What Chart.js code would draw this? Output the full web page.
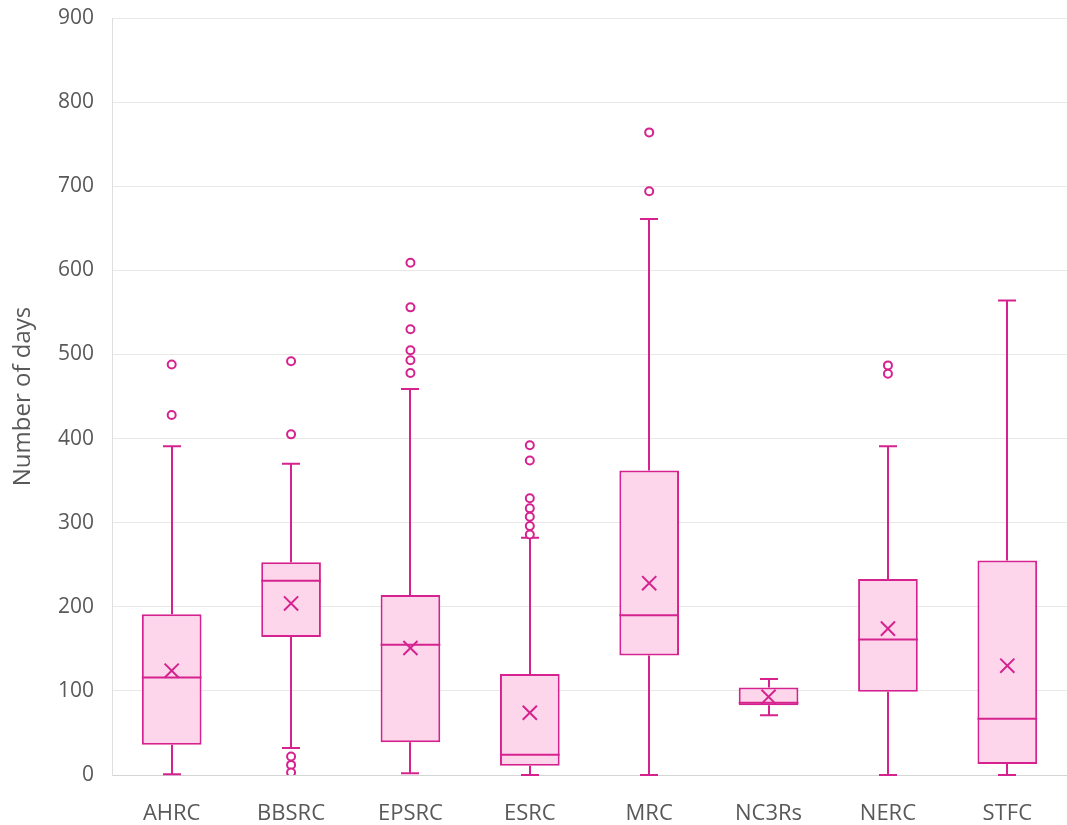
<!DOCTYPE html>
<html>
<head>
<meta charset="utf-8">
<title>Number of days by council</title>
<script src="https://cdn.jsdelivr.net/npm/chart.js@4/dist/chart.umd.min.js"></script>
<style>
  html, body { margin: 0; padding: 0; background: #fff; overflow: hidden; }
  #wrap { width: 1067px; height: 825px; position: relative; }
  canvas { display: block; }
</style>
</head>
<body>
<div id="wrap"><canvas id="daysChart"></canvas></div>
<script>
const councils = ['AHRC', 'BBSRC', 'EPSRC', 'ESRC', 'MRC', 'NC3Rs', 'NERC', 'STFC'];

// box statistics, one value per council
const whiskerLow  = [1, 32, 2, 0, 0, 71, 0, 0];
const q1          = [36, 164, 39, 11, 142, 83, 99, 13];
const medians     = [116, 231, 155, 24, 190, 86, 161, 67];
const q3          = [191, 253, 214, 120, 362, 104, 233, 255];
const whiskerHigh = [391, 370, 459, 282, 661, 114, 391, 564];
const means       = [124, 204, 151, 74, 228, 93, 174, 130];

const outliers = [
  [488, 428],
  [492, 405, 22, 12, 3],
  [609, 556, 530, 505, 493, 478],
  [392, 374, 329, 317, 307, 296, 286],
  [764, 694],
  [],
  [487, 477],
  []
];

const yTicks = [0, 100, 200, 300, 400, 500, 600, 700, 800, 900];

const STROKE = '#d5228f';
const FILL = '#fdd6eb';
const TEXT = '#595959';

const outlierPoints = [];
outliers.forEach((list, i) => list.forEach(v => outlierPoints.push({ x: councils[i], y: v })));

// whiskers under the boxes, median lines over them
const boxLines = {
  id: 'boxLines',
  beforeDatasetsDraw(chart) {
    const ctx = chart.ctx;
    const y = chart.scales.y;
    const bars = chart.getDatasetMeta(0).data;
    ctx.save();
    ctx.strokeStyle = STROKE;
    ctx.lineWidth = 2;
    bars.forEach((bar, i) => {
      const cx = Math.round(bar.x);
      const capHalf = 9;
      const yHi = y.getPixelForValue(whiskerHigh[i]);
      const yLo = y.getPixelForValue(whiskerLow[i]);
      ctx.beginPath();
      ctx.moveTo(cx, y.getPixelForValue(q3[i]));
      ctx.lineTo(cx, yHi);
      ctx.moveTo(cx - capHalf, yHi);
      ctx.lineTo(cx + capHalf, yHi);
      ctx.moveTo(cx, y.getPixelForValue(q1[i]));
      ctx.lineTo(cx, yLo);
      ctx.moveTo(cx - capHalf, yLo);
      ctx.lineTo(cx + capHalf, yLo);
      ctx.stroke();
    });
    ctx.restore();
  },
  afterDatasetsDraw(chart) {
    const ctx = chart.ctx;
    const y = chart.scales.y;
    const bars = chart.getDatasetMeta(0).data;
    ctx.save();
    ctx.strokeStyle = STROKE;
    ctx.lineWidth = 2;
    bars.forEach((bar, i) => {
      const ym = y.getPixelForValue(medians[i]);
      ctx.beginPath();
      ctx.moveTo(bar.x - bar.width / 2, ym);
      ctx.lineTo(bar.x + bar.width / 2, ym);
      ctx.stroke();
    });
    ctx.restore();
  }
};

new Chart(document.getElementById('daysChart'), {
  data: {
    labels: councils,
    datasets: [
      {
        type: 'bar',
        data: q1.map((v, i) => [v, q3[i]]),
        backgroundColor: FILL,
        borderColor: STROKE,
        borderWidth: 2,
        borderSkipped: false,
        barPercentage: 0.5,
        categoryPercentage: 1,
        order: 3
      },
      {
        type: 'line',
        data: outlierPoints,
        showLine: false,
        pointStyle: 'circle',
        pointRadius: 4,
        pointBorderWidth: 2,
        pointBackgroundColor: '#fff',
        pointBorderColor: STROKE,
        order: 2
      },
      {
        type: 'line',
        data: means,
        showLine: false,
        pointStyle: 'crossRot',
        pointRadius: 10,
        pointBorderWidth: 2,
        pointBorderColor: STROKE,
        order: 1
      }
    ]
  },
  options: {
    responsive: true,
    maintainAspectRatio: false,
    animation: false,
    layout: { autoPadding: false, padding: { top: 18, right: 0, left: 0, bottom: 0 } },
    plugins: {
      legend: { display: false },
      tooltip: { enabled: false }
    },
    scales: {
      x: {
        type: 'category',
        offset: true,
        grid: { display: false },
        border: { display: true, color: '#d4d4d4', width: 1 },
        ticks: { color: TEXT, font: { family: 'Open Sans', size: 22 }, padding: 18 },
        afterFit: (scale) => {
          scale.height = 50;
          scale.paddingLeft = 0;
          scale.paddingRight = 0;
        }
      },
      y: {
        min: 0,
        max: 900,
        afterBuildTicks: (scale) => { scale.ticks = yTicks.map(v => ({ value: v })); },
        grid: { color: '#e8e8e8', drawTicks: false },
        border: { display: true, color: '#dedede', width: 1 },
        ticks: { color: TEXT, font: { family: 'Open Sans', size: 21 }, padding: 18 },
        title: {
          display: true,
          text: 'Number of days',
          color: TEXT,
          font: { family: 'Open Sans', size: 24 },
          padding: { top: 9, bottom: 0 }
        },
        afterFit: (scale) => {
          scale.width = 112;
          scale.paddingTop = 0;
          scale.paddingBottom = 0;
        }
      }
    }
  },
  plugins: [boxLines]
});
</script>
</body>
</html>
